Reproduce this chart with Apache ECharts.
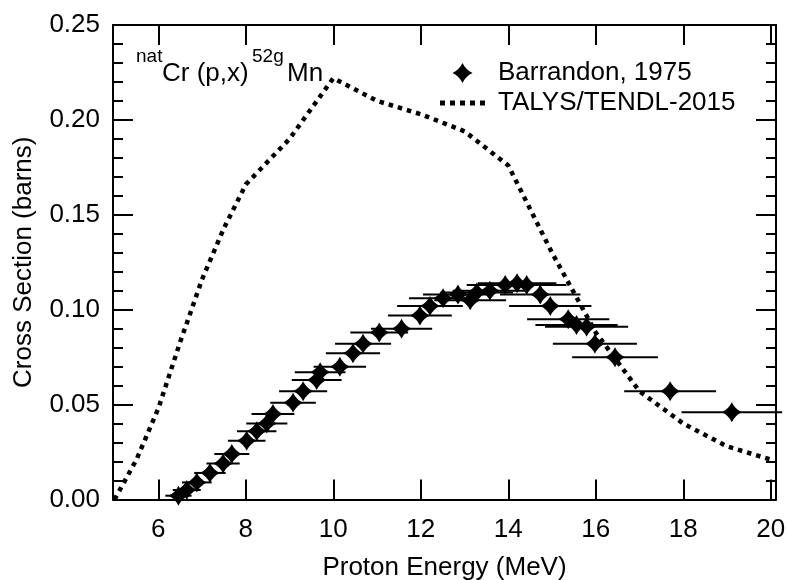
<!DOCTYPE html>
<html>
<head>
<meta charset="utf-8">
<script src="https://cdn.jsdelivr.net/npm/echarts@6/dist/echarts.min.js"></script>
<style>
  html, body { margin: 0; padding: 0; background: #fff; }
  #chart { width: 787px; height: 580px; }
</style>
</head>
<body>
<div id="chart"></div>
<script>
// Axis tick positions (MeV)
const energyTicks = [6, 8, 10, 12, 14, 16, 18, 20];

// TALYS/TENDL-2015 evaluation: energy (MeV) and cross section (barns)
const talysEnergy = [5, 5.5, 6, 6.5, 7, 7.5, 8, 9, 10, 11, 12, 13, 14, 15, 16, 17, 18, 19, 20];
const talysXs = [0.0, 0.021, 0.048, 0.083, 0.116, 0.143, 0.166, 0.190, 0.222, 0.210, 0.203, 0.194, 0.176, 0.130, 0.088, 0.057, 0.040, 0.028, 0.021];

// Barrandon, 1975 measurements: energy (MeV), cross section (barns), energy uncertainty (MeV)
const expEnergy = [6.46, 6.65, 6.88, 7.18, 7.48, 7.68, 8.02, 8.25, 8.48, 8.62, 9.08, 9.31, 9.62, 9.70, 10.15, 10.45, 10.68, 11.05, 11.56, 11.98, 12.21, 12.51, 12.85, 13.13, 13.28, 13.58, 13.93, 14.20, 14.42, 14.73, 14.96, 15.37, 15.56, 15.79, 15.98, 16.44, 17.70, 19.11];
const expXs = [0.002, 0.005, 0.009, 0.014, 0.019, 0.024, 0.031, 0.036, 0.040, 0.045, 0.051, 0.057, 0.063, 0.067, 0.070, 0.077, 0.082, 0.088, 0.090, 0.097, 0.102, 0.106, 0.108, 0.105, 0.109, 0.110, 0.113, 0.114, 0.113, 0.108, 0.102, 0.095, 0.092, 0.091, 0.082, 0.075, 0.057, 0.046];
const expDE = [0.30, 0.32, 0.34, 0.36, 0.38, 0.40, 0.43, 0.45, 0.47, 0.49, 0.52, 0.55, 0.57, 0.58, 0.60, 0.62, 0.64, 0.66, 0.70, 0.73, 0.75, 0.78, 0.80, 0.82, 0.83, 0.85, 0.88, 0.90, 0.91, 0.92, 0.94, 0.94, 0.94, 0.95, 0.96, 0.98, 1.05, 1.15];

const FONT = "'Liberation Sans', Arial, sans-serif";
const X_MIN = 4.964, X_MAX = 20.12;
// four-pointed star marker with concave sides
const starPath = 'path://M0,-10 Q3.2,-3.2 10,0 Q3.2,3.2 0,10 Q-3.2,3.2 -10,0 Q-3.2,-3.2 0,-10 Z';
// dotted line sample for the legend
const dotsPath = 'path://M0,0h5v5h-5z M10,0h5v5h-5z M20,0h5v5h-5z M30,0h5v5h-5z M40,0h5v5h-5z';

const talysData = talysEnergy.map((e, i) => [e, talysXs[i]]);
const expData = expEnergy.map((e, i) => [e, expXs[i], expDE[i]]);

const tickStyle = { inside: true, length: 20, lineStyle: { color: '#000', width: 2 } };
const minorStyle = { show: true, splitNumber: 5, length: 10, lineStyle: { color: '#000', width: 2 } };
const axisLine = { show: true, onZero: false, lineStyle: { color: '#000', width: 2 } };

const chart = echarts.init(document.getElementById('chart'), null, { renderer: 'canvas' });
chart.setOption({
  animation: false,
  backgroundColor: '#fff',
  grid: { left: 113, top: 25, right: 11, bottom: 80.5, containLabel: false, outerBoundsMode: 'none' },
  xAxis: [
    {
      type: 'value', min: X_MIN, max: X_MAX, position: 'bottom',
      name: 'Proton Energy (MeV)', nameLocation: 'middle', nameGap: 55,
      nameTextStyle: { fontFamily: FONT, fontSize: 26, color: '#000' },
      axisLine: axisLine,
      axisTick: Object.assign({ customValues: energyTicks }, tickStyle),
      axisLabel: { customValues: energyTicks, margin: 17, fontFamily: FONT, fontSize: 26, color: '#000' },
      splitLine: { show: false }
    },
    {
      type: 'value', min: X_MIN, max: X_MAX, position: 'top',
      axisLine: axisLine,
      axisTick: Object.assign({ customValues: energyTicks }, tickStyle),
      axisLabel: { show: false, customValues: energyTicks },
      splitLine: { show: false }
    }
  ],
  yAxis: [
    {
      type: 'value', min: 0, max: 0.25, interval: 0.05, position: 'left',
      name: 'Cross Section (barns)', nameLocation: 'middle', nameGap: 76,
      nameTextStyle: { fontFamily: FONT, fontSize: 26, color: '#000' },
      axisLine: axisLine,
      axisTick: tickStyle,
      minorTick: minorStyle,
      axisLabel: { margin: 13, fontFamily: FONT, fontSize: 26, color: '#000', formatter: v => v.toFixed(2) },
      splitLine: { show: false }
    },
    {
      type: 'value', min: 0, max: 0.25, interval: 0.05, position: 'right',
      axisLine: axisLine,
      axisTick: tickStyle,
      minorTick: minorStyle,
      axisLabel: { show: false },
      splitLine: { show: false }
    }
  ],
  legend: {
    orient: 'vertical', left: 435, top: 55,
    itemWidth: 45, itemHeight: 20, itemGap: 4,
    textStyle: { fontFamily: FONT, fontSize: 26, color: '#000', lineHeight: 26, padding: [0, 0, 0, 8] },
    data: [
      { name: 'Barrandon, 1975', icon: starPath, itemStyle: { color: '#000', opacity: 1 } },
      { name: 'TALYS/TENDL-2015', icon: dotsPath, itemStyle: { color: '#000', opacity: 1, borderWidth: 0 } }
    ]
  },
  graphic: [
    { type: 'text', left: 136, top: 47, style: { text: 'nat', font: '19px ' + FONT, fill: '#000' } },
    { type: 'text', left: 162, top: 61, style: { text: 'Cr (p,x)', font: '26px ' + FONT, fill: '#000' } },
    { type: 'text', left: 252, top: 47, style: { text: '52g', font: '19px ' + FONT, fill: '#000' } },
    { type: 'text', left: 287, top: 61, style: { text: 'Mn', font: '26px ' + FONT, fill: '#000' } }
  ],
  series: [
    {
      name: 'TALYS/TENDL-2015', type: 'line', data: talysData,
      xAxisIndex: 0, yAxisIndex: 0,
      symbol: 'none', smooth: false,
      lineStyle: { color: '#000', width: 4.5, type: [4.5, 5], cap: 'butt' },
      itemStyle: { color: '#000' },
      z: 3
    },
    {
      name: 'Barrandon error', type: 'custom', data: expData,
      xAxisIndex: 0, yAxisIndex: 0, clip: false,
      encode: { x: 0, y: 1 },
      renderItem: function (params, api) {
        const e = api.value(0), s = api.value(1), d = api.value(2);
        const p1 = api.coord([e - d, s]);
        const p2 = api.coord([e + d, s]);
        return {
          type: 'line',
          shape: { x1: p1[0], y1: p1[1], x2: p2[0], y2: p2[1] },
          style: { stroke: '#000', lineWidth: 2 }
        };
      },
      z: 4
    },
    {
      name: 'Barrandon, 1975', type: 'scatter', data: expData,
      xAxisIndex: 0, yAxisIndex: 0,
      symbol: starPath, symbolSize: 20, symbolKeepAspect: true,
      itemStyle: { color: '#000', opacity: 1 },
      z: 5
    }
  ]
});
</script>
</body>
</html>
